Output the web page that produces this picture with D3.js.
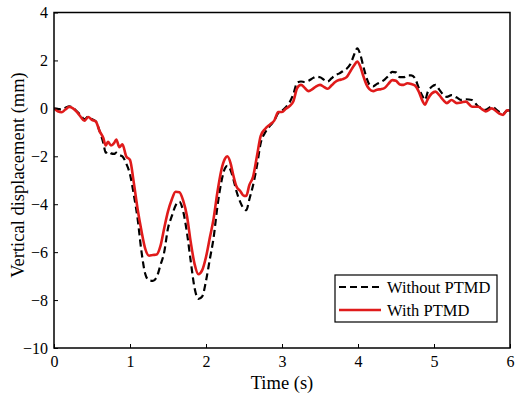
<!DOCTYPE html>
<html>
<head>
<meta charset="utf-8">
<script src="https://cdn.jsdelivr.net/npm/d3@7"></script>
<style>
  body { margin: 0; background: #fff; }
  text { font-family: "Liberation Serif", "Times New Roman", serif; }
</style>
</head>
<body>
<svg id="chart" width="515" height="401"></svg>
<script>
// time (s)
const time = [
  0.00, 0.05, 0.10, 0.15, 0.20, 0.25, 0.30, 0.35, 0.40, 0.45, 0.50, 0.55, 0.60, 0.65, 0.68,
  0.71, 0.75, 0.79, 0.82, 0.86, 0.90, 0.95, 1.00, 1.05, 1.10, 1.15, 1.20, 1.25, 1.30, 1.35,
  1.40, 1.45, 1.50, 1.55, 1.60, 1.65, 1.70, 1.75, 1.80, 1.85, 1.90, 1.95, 2.00, 2.05, 2.10,
  2.15, 2.20, 2.25, 2.28, 2.32, 2.36, 2.40, 2.45, 2.50, 2.53, 2.57, 2.62, 2.67, 2.72, 2.78,
  2.85, 2.90, 2.95, 3.00, 3.05, 3.10, 3.15, 3.20, 3.25, 3.30, 3.35, 3.40, 3.45, 3.50, 3.55,
  3.60, 3.65, 3.70, 3.75, 3.80, 3.85, 3.90, 3.95, 3.99, 4.03, 4.07, 4.11, 4.15, 4.20, 4.25,
  4.30, 4.35, 4.40, 4.45, 4.50, 4.55, 4.60, 4.65, 4.70, 4.75, 4.80, 4.85, 4.88, 4.92, 4.97,
  5.02, 5.07, 5.12, 5.17, 5.23, 5.30, 5.36, 5.42, 5.50, 5.58, 5.64, 5.68, 5.76, 5.85, 5.91,
  5.96, 6.00
]

// vertical displacement (mm) without PTMD
const withoutPTMD = [
  0.00, -0.02, -0.05, 0.02, 0.08, 0.02, -0.12, -0.28, -0.45, -0.35, -0.45, -0.55, -0.95, -1.45, -1.85,
  -1.80, -1.88, -1.90, -1.85, -1.95, -2.00, -2.30, -2.75, -3.60, -4.60, -5.95, -6.90, -7.18, -7.20, -7.05,
  -6.55, -6.00, -5.00, -4.50, -4.05, -3.90, -4.30, -5.20, -6.40, -7.50, -7.95, -7.85, -7.20, -6.30, -5.40,
  -4.10, -3.10, -2.50, -2.40, -2.55, -2.95, -3.45, -3.90, -4.20, -4.25, -3.80, -3.20, -2.40, -1.45, -1.00,
  -0.70, -0.50, -0.20, -0.10, 0.05, 0.25, 0.60, 1.08, 1.12, 1.10, 1.15, 1.25, 1.32, 1.30, 1.20,
  1.12, 1.25, 1.38, 1.45, 1.55, 1.65, 1.85, 2.25, 2.50, 2.25, 1.75, 1.30, 1.00, 0.92, 1.02,
  1.10, 1.20, 1.35, 1.52, 1.50, 1.30, 1.30, 1.38, 1.38, 1.25, 0.85, 0.50, 0.35, 0.70, 0.90,
  0.98, 0.78, 0.58, 0.48, 0.55, 0.45, 0.35, 0.38, 0.35, 0.08, 0.00, -0.06, 0.07, -0.13, -0.22,
  -0.10, -0.06
]

// vertical displacement (mm) with PTMD
const withPTMD = [
  0.00, -0.12, -0.16, -0.05, 0.06, 0.00, -0.15, -0.35, -0.52, -0.36, -0.48, -0.55, -0.95, -1.25, -1.55,
  -1.40, -1.55, -1.45, -1.30, -1.62, -1.50, -2.00, -2.15, -3.10, -4.20, -5.10, -5.85, -6.15, -6.12, -6.10,
  -5.75, -5.00, -4.30, -3.80, -3.48, -3.50, -3.85, -4.50, -5.60, -6.50, -6.92, -6.75, -6.20, -5.40, -4.60,
  -3.50, -2.60, -2.10, -2.00, -2.25, -2.80, -3.25, -3.45, -3.65, -3.65, -3.20, -2.85, -2.00, -1.15, -0.85,
  -0.65, -0.50, -0.15, -0.15, -0.02, 0.10, 0.30, 0.85, 0.98, 0.85, 0.72, 0.80, 0.92, 0.98, 0.90,
  0.82, 0.95, 1.10, 1.18, 1.22, 1.30, 1.55, 1.80, 1.95, 1.75, 1.35, 1.00, 0.80, 0.72, 0.78,
  0.80, 0.85, 1.02, 1.18, 1.15, 1.00, 0.98, 1.05, 1.02, 0.95, 0.70, 0.30, 0.15, 0.40, 0.62,
  0.70, 0.55, 0.35, 0.22, 0.35, 0.22, 0.25, 0.28, 0.07, 0.07, -0.05, -0.13, 0.00, -0.20, -0.27,
  -0.08, -0.10
]

const xTicks = [0, 1, 2, 3, 4, 5, 6]
const yTicks = [-10, -8, -6, -4, -2, 0, 2, 4]

const margin = {top: 12.5, right: 5, bottom: 53, left: 54}
const width = 515, height = 401
const svg = d3.select('#chart')

const x = d3.scaleLinear().domain([0, 6]).range([margin.left, width - margin.right])
const y = d3.scaleLinear().domain([-10, 4]).range([height - margin.bottom, margin.top])

const line = (vals) => d3.line()
  .x((d, i) => x(time[i]))
  .y((d) => y(d))
  .curve(d3.curveMonotoneX)(vals)

// data lines (clipped to plot box)
svg.append('clipPath').attr('id', 'clip')
  .append('rect')
  .attr('x', x(0)).attr('y', y(4))
  .attr('width', x(6) - x(0)).attr('height', y(-10) - y(4))

const plot = svg.append('g').attr('clip-path', 'url(#clip)')

plot.append('path')
  .attr('d', line(withoutPTMD))
  .attr('fill', 'none')
  .attr('stroke', '#000')
  .attr('stroke-width', 2.2)
  .attr('stroke-dasharray', '7,4')

plot.append('path')
  .attr('d', line(withPTMD))
  .attr('fill', 'none')
  .attr('stroke', '#e01b1b')
  .attr('stroke-width', 2.6)

// axes
const xAxis = d3.axisBottom(x).tickValues(xTicks).tickSize(-4).tickPadding(8).tickFormat(d3.format('d'))
const yAxis = d3.axisLeft(y).tickValues(yTicks).tickSize(-4).tickPadding(6).tickFormat(d3.format('d'))

const gx = svg.append('g').attr('transform', 'translate(0,' + y(-10) + ')').call(xAxis)
const gy = svg.append('g').attr('transform', 'translate(' + x(0) + ',0)').call(yAxis)

;[gx, gy].forEach((g) => {
  g.select('.domain').remove()
  g.selectAll('.tick line').attr('stroke', '#000').attr('stroke-width', 1)
  g.selectAll('.tick text').attr('fill', '#000').style('font-size', '16px')
})

// frame
svg.append('rect')
  .attr('x', x(0)).attr('y', y(4))
  .attr('width', x(6) - x(0)).attr('height', y(-10) - y(4))
  .attr('fill', 'none')
  .attr('stroke', '#000')
  .attr('stroke-width', 1.5)

// axis titles
svg.append('text')
  .attr('x', (x(0) + x(6)) / 2)
  .attr('y', 389)
  .attr('text-anchor', 'middle')
  .style('font-size', '18.5px')
  .text('Time (s)')

svg.append('text')
  .attr('transform', 'translate(24,' + 175 + ')rotate(-90)')
  .attr('text-anchor', 'middle')
  .style('font-size', '18.5px')
  .text('Vertical displacement (mm)')

// legend
const legend = svg.append('g').attr('transform', 'translate(335,275)')
legend.append('rect')
  .attr('width', 162).attr('height', 47)
  .attr('fill', '#fff').attr('stroke', '#000').attr('stroke-width', 1.2)

const legendItems = [
  {label: 'Without PTMD', color: '#000', dash: '7,4', w: 2.2},
  {label: 'With PTMD', color: '#e01b1b', dash: null, w: 2.6},
]
legendItems.forEach((d, i) => {
  const ly = 12 + i * 23
  legend.append('line')
    .attr('x1', 4).attr('x2', 46).attr('y1', ly).attr('y2', ly)
    .attr('stroke', d.color).attr('stroke-width', d.w)
    .attr('stroke-dasharray', d.dash)
  legend.append('text')
    .attr('x', 52).attr('y', ly + 6)
    .style('font-size', '16.5px')
    .text(d.label)
})
</script>
</body>
</html>
